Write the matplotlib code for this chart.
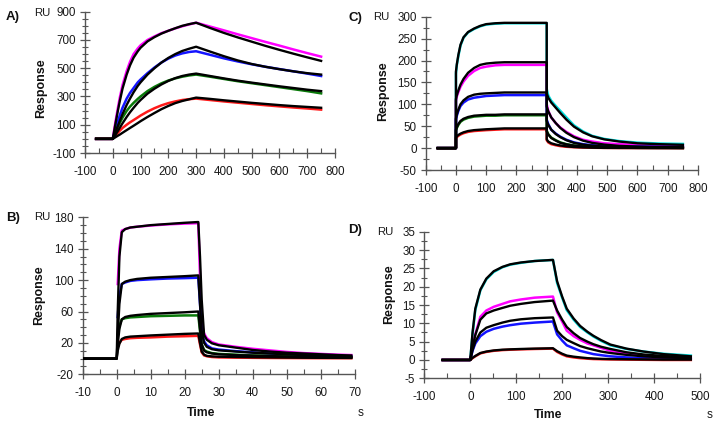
import numpy as np
import matplotlib
matplotlib.use("Agg")
import matplotlib.pyplot as plt
from matplotlib.ticker import FixedLocator, MultipleLocator

plt.rcParams['font.family'] = ['Liberation Sans', 'DejaVu Sans']
plt.rcParams['axes.unicode_minus'] = False

nan = np.nan

# ---------------- Panel A ----------------
a_t = [-60, 0, 5, 10, 18, 25, 35, 50, 62, 75, 90, 100, 125, 150, 175, 200, 225, 250, 275, 300,
       350, 400, 450, 500, 550, 600, 650, 700, 750]
a_magenta = [0, 0, 65, 125, 215, 290, 380, 480, 545, 600, 640, 662, 700, 725, 748, 765, 782, 797, 810, 822,
             795, 768, 740, 713, 686, 660, 633, 607, 582]
a_fit_magenta = [0, 0, 55, 110, 195, 265, 355, 455, 520, 575, 620, 645, 690, 720, 745, 765, 783, 800, 812, 822,
                 785, 750, 718, 688, 658, 630, 603, 577, 552]
a_blue = [0, 0, 35, 70, 120, 165, 220, 285, 325, 360, 400, 420, 465, 505, 540, 568, 590, 605, 615, 620,
          595, 570, 548, 528, 510, 494, 478, 462, 445]
a_fit_blue = [0, 0, 25, 50, 90, 125, 175, 240, 285, 330, 375, 400, 455, 500, 540, 573, 600, 622, 638, 652,
              618, 585, 555, 530, 510, 493, 478, 465, 455]
a_green = [0, 0, 25, 50, 85, 112, 150, 198, 228, 255, 283, 300, 338, 368, 393, 413, 428, 440, 449, 455,
           440, 424, 408, 394, 380, 366, 352, 338, 322]
a_fit_green = [0, 0, 15, 30, 55, 78, 110, 155, 188, 220, 255, 275, 320, 355, 385, 410, 430, 445, 455, 462,
               445, 428, 412, 398, 385, 372, 360, 348, 338]
a_red = [0, 0, 12, 25, 42, 57, 77, 100, 117, 133, 152, 165, 193, 217, 237, 253, 265, 275, 281, 285,
         275, 265, 256, 247, 238, 230, 222, 215, 207]
a_fit_red = [0, 0, 6, 12, 22, 30, 43, 62, 77, 93, 112, 125, 155, 183, 210, 233, 253, 268, 280, 292,
             283, 273, 264, 255, 247, 239, 232, 226, 220]
a_yticks = [-100, 100, 300, 500, 700, 900]
a_xticks = [-100, 0, 100, 200, 300, 400, 500, 600, 700, 800]

# ---------------- Panel B ----------------
b_t = [-10, 0, 0.3, 0.8, 1.5, 2.5, 4, 6, 10, 15, 20, 24, 24.5, 25, 25.7, 26.5, 28, 30, 35, 40,
       45, 50, 55, 60, 65, 69]
b_magenta = [nan, nan, 95, 140, 163, 165, 167, 168, 169.5, 171, 172, 172.5, 105, 45, 32, 26, 21, 18, 15, 12.5,
             10.5, 8.5, 7, 6, 5, 4.5]
b_fit_magenta = [0, 0, 60, 130, 161, 165, 167, 168, 170, 171.5, 173, 174, 130, 75, 30, 24, 19.5, 17, 14, 11,
                 9, 7.5, 6.5, 5.5, 4.5, 4]
b_blue = [nan, nan, 53, 80, 95, 97, 99, 100, 101, 102, 102.5, 103, 70, 35, 22, 17, 13, 11.5, 9.5, 8,
          6.5, 5.5, 4.5, 3.5, 3, 2.5]
b_fit_blue = [0, 0, 30, 70, 95, 98, 100, 101.5, 103, 104, 105, 106, 70, 35, 20, 15, 12, 10.5, 9, 7.5,
              6.5, 5.5, 4.5, 3.5, 3, 2.5]
b_green = [nan, nan, 28, 42, 50, 51.5, 52.5, 53, 54, 54.5, 55, 55, 35, 18, 11, 9, 7, 6, 5, 4,
           3.5, 3, 2.5, 2, 1.5, 1.5]
b_fit_green = [0, 0, 18, 38, 50, 53, 54.5, 55.5, 57, 58, 59, 60, 38, 18, 10, 8, 6.5, 5.5, 4.5, 3.8,
               3.2, 2.7, 2.3, 2, 1.8, 1.5]
b_red = [nan, nan, 15, 20, 24, 25, 26, 26.5, 27, 28, 28.5, 29, 18, 8, 4, 3, 2, 1.5, 1.2, 1,
         0.8, 0.7, 0.6, 0.5, 0.5, 0.5]
b_fit_red = [0, 0, 10, 19, 25, 27, 28, 28.5, 29.5, 30.5, 31.5, 32, 20, 9, 5, 3.5, 2.8, 2.4, 2, 1.7,
             1.5, 1.3, 1.1, 1, 0.9, 0.8]
b_yticks = [-20, 20, 60, 100, 140, 180]
b_xticks = [-10, 0, 10, 20, 30, 40, 50, 60, 70]

# ---------------- Panel C ----------------
c_t = [-60, 0, 0, 3, 8, 15, 25, 40, 60, 80, 100, 130, 160, 200, 250, 300,
       300, 305, 315, 330, 345, 365, 390, 420, 450, 490, 540, 600, 670, 750]
c_cyan = [0, 0, 170, 190, 210, 234, 252, 264, 272, 278, 282, 284, 285, 285, 285, 285,
          135, 120, 108, 96, 85, 70, 52, 38, 28, 21, 16, 12.5, 10.5, 9.5]
c_fit_cyan = [0, 0, 175, 192, 213, 236, 253, 265, 273, 279, 283, 285, 286, 286, 286, 286,
              125, 115, 104, 92, 80, 65, 49, 36, 27, 20, 15, 11, 9, 7.5]
c_magenta = [0, 0, 108, 118, 128, 140, 152, 165, 176, 183, 186, 189, 190, 190, 190, 190,
             100, 85, 70, 57, 47, 37, 27, 19, 15, 11, 9, 7.5, 6.5, 6]
c_fit_magenta = [0, 0, 112, 121, 132, 145, 158, 172, 183, 190, 193, 195, 196, 196, 196, 196,
                 95, 84, 70, 57, 46, 35, 25, 17, 12, 8, 5, 3.5, 2.5, 2]
c_blue = [0, 0, 65, 74, 85, 96, 104, 111, 115, 117, 119, 120, 121, 121, 121, 121,
          65, 55, 42, 33, 26, 19, 13, 9, 6.5, 5, 4, 3.5, 3, 3]
c_fit_blue = [0, 0, 68, 77, 88, 100, 109, 117, 122, 124, 125, 126, 127, 127, 127, 127,
              62, 53, 42, 32, 25, 18, 12, 8, 5.5, 3.5, 2.5, 1.5, 1, 0.8]
c_green = [0, 0, 40, 46, 53, 60, 65, 69, 72, 73, 74, 74, 75, 75, 75, 75,
           40, 32, 24, 18, 13, 9, 6, 4, 3, 2, 1.5, 1, 1, 0.5]
c_fit_green = [0, 0, 42, 48, 55, 62, 67, 71, 74, 75, 76, 76, 77, 77, 77, 77,
               38, 31, 23, 17, 12, 8.5, 5.5, 3.5, 2.5, 1.5, 1, 0.5, 0.3, 0.2]
c_red = [0, 0, 22, 25, 28, 31, 34, 37, 39, 40, 41, 42, 43, 43, 43, 43,
         18, 13, 9, 6.5, 4.5, 3, 2, 1.2, 0.8, 0.5, 0.3, 0.2, 0.1, 0]
c_fit_red = [0, 0, 24, 27, 30, 33, 36, 39, 41, 42, 43, 44, 45, 45, 45, 45,
             20, 15, 11, 8, 6, 4, 2.5, 1.5, 1, 0.5, 0.3, 0.2, 0.1, 0]
c_yticks = [-50, 0, 50, 100, 150, 200, 250, 300]
c_xticks = [-100, 0, 100, 200, 300, 400, 500, 600, 700, 800]

# ---------------- Panel D ----------------
d_t = [-60, 0, 5, 11, 22, 35, 51, 70, 87, 110, 140, 180, 189, 200, 210, 225, 239, 255, 268, 285,
       305, 340, 377, 420, 480]
d_cyan = [0, 0, 7, 13.6, 19, 22, 24, 25.3, 26, 26.5, 27, 27.3, 21, 17, 13.6, 11, 9, 7.5, 6.4, 5.2,
          4, 3, 2.3, 1.7, 1.2]
d_fit_cyan = [0, 0, 7.5, 14, 19.2, 22.2, 24.2, 25.4, 26.1, 26.6, 27, 27.3, 21.5, 17.3, 14, 11.3, 9.3, 7.7, 6.6, 5.4,
              4.2, 3.1, 2.3, 1.6, 1.0]
d_magenta = [0, 0, 3.5, 7, 11.8, 13.5, 14.5, 15.3, 16, 16.5, 17, 17.3, 13, 10.5, 8, 6.5, 5.5, 4.5, 4, 3.3,
             2.5, 1.8, 1.2, 0.8, 0.5]
d_fit_magenta = [0, 0, 3.5, 6.8, 11, 12.7, 13.5, 14.2, 14.8, 15.3, 15.8, 16.2, 13.5, 11, 9, 7.3, 6, 5, 4.3, 3.6,
                 3, 2.1, 1.5, 1.1, 0.7]
d_blue = [0, 0, 2.5, 4.5, 6.5, 7.7, 8.5, 9.1, 9.5, 9.9, 10.2, 10.5, 7, 5.3, 4, 3.2, 2.5, 2, 1.6, 1.3,
          1, 0.7, 0.5, 0.3, 0.2]
d_fit_blue = [0, 0, 2.7, 5, 7.5, 8.8, 9.5, 10.2, 10.7, 11.1, 11.4, 11.6, 8, 6.5, 5.5, 4.6, 3.8, 3.2, 2.8, 2.3,
              1.9, 1.4, 1.0, 0.7, 0.5]
d_red = [0, 0, 0.5, 1, 1.8, 2.2, 2.5, 2.7, 2.8, 2.9, 3.0, 3.1, 2.2, 1.5, 1.0, 0.7, 0.5, 0.35, 0.25, 0.2,
         0.15, 0.1, 0.05, 0, 0]
d_fit_red = [0, 0, 0.6, 1.1, 1.9, 2.3, 2.6, 2.8, 2.9, 3.0, 3.1, 3.2, 2.4, 1.7, 1.2, 0.9, 0.7, 0.5, 0.4, 0.3,
             0.25, 0.2, 0.15, 0.1, 0.1]
d_yticks = [-5, 0, 5, 10, 15, 20, 25, 30, 35]
d_xticks = [-100, 0, 100, 200, 300, 400, 500]

COL = {'magenta': '#ff00ff', 'blue': '#1414ff', 'green': '#0a7a0a', 'red': '#ff1a1a', 'cyan': '#00dcdc'}

W, H = 718, 426
fig = plt.figure(figsize=(W / 100, H / 100), dpi=100)


def make_ax(left, right, top, bottom):
    return fig.add_axes([left / W, 1 - bottom / H, (right - left) / W, (bottom - top) / H])


def style(ax, xlim, ylim, xticks, yticks, xminor, yminor):
    ax.set_xlim(*xlim)
    ax.set_ylim(*ylim)
    for s in ('top', 'right'):
        ax.spines[s].set_visible(False)
    for s in ('left', 'bottom'):
        ax.spines[s].set_color('#555555')
        ax.spines[s].set_linewidth(1.0)
    ax.xaxis.set_major_locator(FixedLocator(xticks))
    ax.yaxis.set_major_locator(FixedLocator(yticks))
    ax.xaxis.set_minor_locator(MultipleLocator(xminor))
    ax.yaxis.set_minor_locator(MultipleLocator(yminor))
    ax.tick_params(axis='both', which='major', direction='inout', length=7, width=0.9,
                   color='#555555', labelsize=8.4, labelcolor='#1a1a1a')
    ax.tick_params(axis='x', which='major', pad=6)
    ax.tick_params(axis='y', which='major', pad=3)
    ax.tick_params(axis='x', which='minor', direction='in', length=3.5, width=0.8, color='#555555')
    ax.tick_params(axis='y', which='minor', direction='inout', length=5, width=0.8, color='#555555')
    ax.set_facecolor('white')


def draw(ax, t, pairs):
    for name, data, fit in pairs:
        ax.plot(t, data, color=COL[name], lw=1.8, solid_joinstyle='round', zorder=2)
    for name, data, fit in pairs:
        ax.plot(t, fit, color='black', lw=1.7, solid_joinstyle='round', zorder=3)


# Panel A
axA = make_ax(85, 335, 11.7, 153)
style(axA, (-100, 800), (-100, 900), a_xticks, a_yticks, 50, 50)
draw(axA, a_t, [('magenta', a_magenta, a_fit_magenta), ('blue', a_blue, a_fit_blue),
                ('green', a_green, a_fit_green), ('red', a_red, a_fit_red)])

# Panel C
axC = make_ax(425.7, 698, 16.7, 170)
style(axC, (-100, 800), (-50, 300), c_xticks, c_yticks, 50, 25)
draw(axC, c_t, [('cyan', c_cyan, c_fit_cyan), ('magenta', c_magenta, c_fit_magenta),
                ('blue', c_blue, c_fit_blue), ('green', c_green, c_fit_green), ('red', c_red, c_fit_red)])

# Panel B
axB = make_ax(82.7, 354.7, 217.3, 374.3)
style(axB, (-10, 70), (-20, 180), b_xticks, b_yticks, 5, 10)
draw(axB, b_t, [('magenta', b_magenta, b_fit_magenta), ('blue', b_blue, b_fit_blue),
                ('green', b_green, b_fit_green), ('red', b_red, b_fit_red)])

# Panel D
axD = make_ax(424.3, 700, 231.7, 378.3)
style(axD, (-100, 500), (-5, 35), d_xticks, d_yticks, 50, 2.5)
draw(axD, d_t, [('cyan', d_cyan, d_fit_cyan), ('magenta', d_magenta, d_fit_magenta),
                ('blue', d_blue, d_fit_blue), ('red', d_red, d_fit_red)])


def ftext(x, y, s, **kw):
    fig.text(x / W, 1 - y / H, s, ha='center', va='center', **kw)


# Panel letters
for x, y, s in [(13, 17, 'A)'), (355, 17.5, 'C)'), (13, 218.5, 'B)'), (355, 230, 'D)')]:
    ftext(x, y, s, fontsize=9.5, fontweight='bold', color='#111111')
# RU labels
for x, y in [(42.5, 12.5), (381.5, 16.5), (42, 217.5), (385, 232)]:
    ftext(x, y, 'RU', fontsize=8.2, color='#1a1a1a')
# Response labels
for x, y in [(41, 88), (383, 91), (39, 295), (389, 294)]:
    ftext(x, y, 'Response', fontsize=9, fontweight='bold', rotation=90, color='#111111')
# Time labels
for x, y in [(201, 413), (548.5, 415)]:
    ftext(x, y, 'Time', fontsize=8.8, fontweight='bold', color='#111111')
# unit s
for x, y in [(361, 413.5), (710, 415.5)]:
    ftext(x, y, 's', fontsize=8.5, color='#1a1a1a')

fig.savefig('out.png', dpi=100, facecolor='white')
